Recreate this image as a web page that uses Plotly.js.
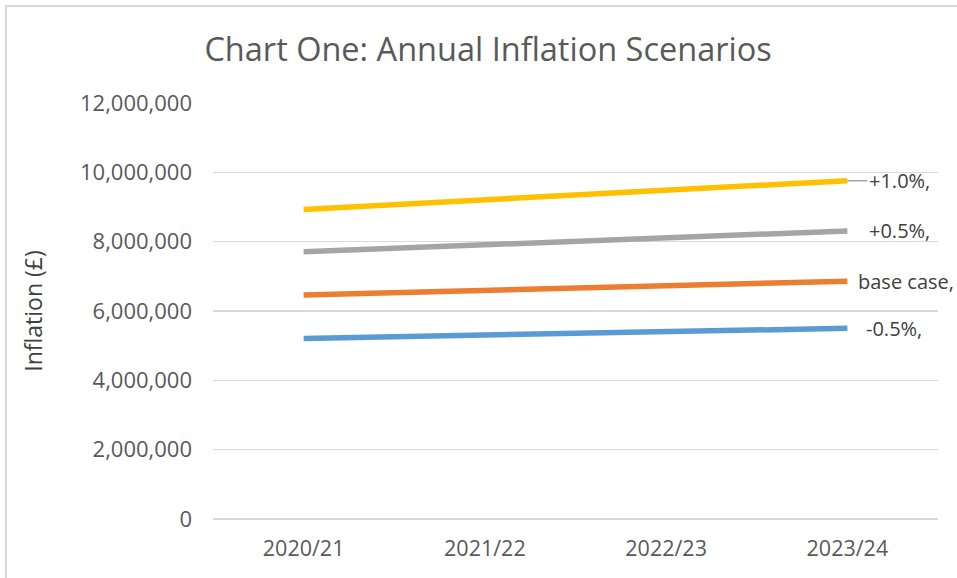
<!DOCTYPE html>
<html>
<head>
<meta charset="utf-8">
<script src="https://cdn.plot.ly/plotly-3.0.1.min.js"></script>
<style>
  html, body { margin: 0; padding: 0; background: #fff; }
  #wrap { position: relative; width: 957px; height: 578px; }
  #chart { width: 957px; height: 578px; }
  #frame { position: absolute; left: 5px; top: 5px; right: 0; bottom: 0;
           border-left: 2px solid #d9d9d9; border-top: 2px solid #d9d9d9;
           pointer-events: none; }
</style>
</head>
<body>
<div id="wrap">
  <div id="chart"></div>
  <div id="frame"></div>
</div>
<script>
// ---- data ----
const years = ["2020/21", "2021/22", "2022/23", "2023/24"];
const seriesNames = ["-0.5%", "base case", "+0.5%", "+1.0%"];
const minusHalf = [5210000, 5310000, 5400000, 5500000];
const baseCase  = [6460000, 6590000, 6720000, 6860000];
const plusHalf  = [7710000, 7910000, 8110000, 8310000];
const plusOne   = [8930000, 9200000, 9470000, 9760000];
const yTicks = [0, 2000000, 4000000, 6000000, 8000000, 10000000, 12000000];
const yTickText = ["0", "2,000,000", "4,000,000", "6,000,000", "8,000,000", "10,000,000", "12,000,000"];

// ---- styles ----
const colors = ["#5B9BD5", "#ED7D31", "#A5A5A5", "#FFC000"];
const labelShift = [17, 9, 20, 20];
const values = [minusHalf, baseCase, plusHalf, plusOne];
const FONT = "'Open Sans', 'Noto Sans', sans-serif";

const traces = values.map((v, i) => ({
  type: "scatter",
  mode: "lines",
  x: years,
  y: v,
  name: seriesNames[i],
  line: { color: colors[i], width: 5.5 },
  hoverinfo: "skip"
}));

const annotations = values.map((v, i) => {
  const last = v.length - 1;
  const a = {
    x: years[last], y: v[last], xref: "x", yref: "y",
    text: seriesNames[i] + ",",
    xanchor: "left", yanchor: "middle",
    font: { family: FONT, size: 20, color: "#404040" },
    showarrow: false,
    xshift: labelShift[i]
  };
  if (seriesNames[i] === "+1.0%") {
    a.showarrow = true; a.arrowhead = 0; a.arrowcolor = "#A5A5A5";
    a.arrowwidth = 1.5; a.ax = 20; a.ay = 0; a.xshift = 0; a.standoff = 0;
  }
  return a;
});

const layout = {
  width: 957, height: 578,
  margin: { l: 213, r: 19, t: 103, b: 59 },
  paper_bgcolor: "#ffffff", plot_bgcolor: "#ffffff",
  showlegend: false,
  title: {
    text: "Chart One: Annual Inflation Scenarios",
    font: { family: FONT, size: 32.5, color: "#595959" },
    x: 0.51, xanchor: "center", y: 0.915, yanchor: "middle"
  },
  xaxis: {
    type: "category",
    range: [-0.5, 3.5],
    showgrid: false, zeroline: false, showline: false,
    ticks: "",
    ticklabelstandoff: 14,
    tickfont: { family: FONT, size: 21.5, color: "#595959" }
  },
  yaxis: {
    range: [0, 12000000],
    tickvals: yTicks, ticktext: yTickText,
    showgrid: true, gridcolor: "#d9d9d9", gridwidth: 1.5,
    zeroline: true, zerolinecolor: "#d9d9d9", zerolinewidth: 1.5,
    showline: false, ticks: "",
    ticklabelstandoff: 20,
    tickfont: { family: FONT, size: 22, color: "#595959" },
    title: { text: "Inflation (£)", font: { family: FONT, size: 23, color: "#404040" }, standoff: 30 }
  },
  annotations: annotations
};

Plotly.newPlot("chart", traces, layout, { displayModeBar: false, staticPlot: true });
</script>
</body>
</html>
